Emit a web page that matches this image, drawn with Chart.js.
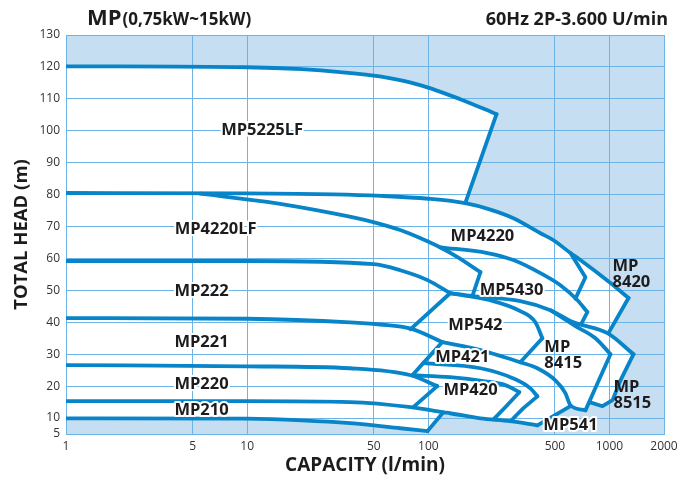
<!DOCTYPE html>
<html>
<head>
<meta charset="utf-8">
<script src="https://cdn.jsdelivr.net/npm/chart.js@4.4.1/dist/chart.umd.min.js"></script>
<style>
  html, body { margin: 0; padding: 0; background: #fff; }
</style>
</head>
<body>
<canvas id="chart" width="692" height="479"></canvas>
<script>
// tick values
const xTicks = [1, 5, 10, 50, 100, 500, 1000, 2000];
const yTicks = [5, 10, 20, 30, 40, 50, 60, 70, 80, 90, 100, 110, 120, 130];

// curves: [capacity l/min, total head m]
const mp5225lfTop = [[1, 120.2], [10, 119.9], [20, 119.3], [32.6, 118.4], [54, 117.0], [90, 114.3], [150, 109.9], [238, 105.2]];
const mp5225lfEdge = [[238, 105.2], [160, 77.3]];
const lineB = [[1, 80.5], [10, 80.4], [30, 80.1], [55, 79.6], [100, 78.7], [160, 77.3], [220, 75.3], [295, 72.6], [416, 67.9], [491, 65.7], [609, 61.7], [691, 59.5], [1013, 52.3], [1274, 47.6]];
const mp8420Edge = [[1274, 47.6], [987, 36.6]];
const mp4220lfTop = [[5.5, 80.3], [12.9, 77.7], [29.9, 74.1], [49.7, 71.4], [70, 68.9], [90, 66.4], [116, 63.5], [145, 60.4], [194, 55.7]];
const mp4220lfEdge = [[194, 55.7], [175, 48.2]];
const mp4220Bottom = [[116, 63.5], [212, 61.7], [295, 59.5], [416, 55.4], [536, 51.6], [666, 46.9], [755, 43.2]];
const mp4220Edge = [[609, 61.7], [737, 54.1], [649, 47.4]];
const mp5430Edge = [[755, 43.2], [700, 39.6]];
const lineD = [[1, 59.2], [10, 59.2], [50, 58.2], [70, 56.3], [99, 53.2], [132, 49.1]];
const lineU = [[132, 49.1], [175, 48.2], [322, 46.6], [472, 43.8], [634, 40.0], [975, 36.6], [1358, 30.0]];
const mp222Edge = [[132, 49.1], [79.6, 37.8]];
const mp542Top = [[132, 49.1], [220, 46.9], [322, 43.5], [390, 40.0], [426, 35.0]];
const mp542Edge = [[426, 35.0], [322, 27.5]];
const mp542Bottom = [[119.5, 33.8], [194, 31.3], [322, 27.5]];
const mp8415Top = [[472, 43.8], [649, 38.8], [837, 35.0], [1013, 30.0]];
const mp8415Edge = [[1013, 30.0], [859, 20.9], [737, 12.4]];
const mp8415Bottom = [[322, 27.5], [400, 25.6], [503, 21.8], [571, 17.8], [609, 14.0], [737, 12.4]];
const mp8515Edge = [[1358, 30.0], [1150, 21.8], [1040, 15.6], [915, 13.7], [776, 15.0]];
const mp541Edge = [[400, 7.7], [609, 13.7]];
const lineE = [[1, 41.3], [10, 41.1], [37, 40.0], [54, 39.3], [80, 38.0], [119.5, 33.8]];
const mp221Edge = [[119.5, 33.8], [93.8, 27.2], [81.6, 23.4]];
const line220 = [[1, 26.6], [10, 26.2], [37, 25.6], [80, 23.4], [112, 20.0]];
const mp220Edge = [[112, 20.0], [82.6, 13.4]];
const lineF = [[1, 15.3], [10, 15.3], [37, 15.0], [80, 13.4], [121, 11.8], [132, 11.5], [194, 9.9], [284, 9.0], [400, 7.7]];
const lineG = [[1, 9.9], [10, 9.8], [20, 9.3], [37, 8.4], [70, 6.8], [99, 5.9]];
const mp210Edge = [[99, 5.9], [121, 11.8]];
const mp421Top = [[93.8, 27.2], [194, 25.6], [295, 22.4], [366, 19.3], [400, 16.8]];
const mp421Edge = [[400, 16.8], [335, 13.1], [284, 9.0]];
const mp420Top = [[81.6, 23.4], [132, 22.8], [206, 21.5], [266, 20.3], [318, 18.1]];
const mp420Edge = [[318, 18.1], [266, 13.4], [229, 9.6]];

// model names: [text, capacity, head]
const names = [
  ['MP5225LF', 12.1, 100], ['MP4220LF', 6.7, 69.2], ['MP222', 5.6, 49.7],
  ['MP221', 5.6, 33.8], ['MP220', 5.6, 20.6], ['MP210', 5.6, 12.4],
  ['MP4220', 199, 67.0], ['MP5430', 288, 50.1], ['MP542', 182, 38.9],
  ['MP421', 154, 29.1], ['MP420', 171, 18.6], ['MP541', 609, 7.7]
];
// two-line names, anchored at the left edge
const names2 = [['MP', '8420', 1040, 55.1], ['MP', '8415', 437, 29.8], ['MP', '8515', 1052, 17.1]];

const curves = [
  [mp5225lfTop, true], [mp5225lfEdge, false], [lineB, true], [mp8420Edge, false],
  [mp4220lfTop, true], [mp4220lfEdge, false], [mp4220Bottom, true], [mp4220Edge, false],
  [mp5430Edge, false], [lineD, true], [lineU, true], [mp222Edge, false],
  [mp542Top, true], [mp542Edge, false], [mp542Bottom, true], [mp8415Top, true],
  [mp8415Edge, false], [mp8415Bottom, true], [mp8515Edge, false], [mp541Edge, false],
  [lineE, true], [mp221Edge, false], [line220, true], [mp220Edge, false],
  [lineF, true], [lineG, true], [mp210Edge, false], [mp421Top, true],
  [mp421Edge, false], [mp420Top, true], [mp420Edge, false]
];

// outer boundary of all working ranges (white area)
const rev = a => a.slice().reverse();
const outline = [
  ...mp5225lfTop,
  ...mp5225lfEdge.slice(1),
  ...lineB.filter(p => p[0] > 160),
  ...mp8420Edge.slice(1),
  ...lineU.filter(p => p[0] > 987),
  ...mp8515Edge.slice(1),
  mp8415Edge[mp8415Edge.length - 1],
  ...rev(mp8415Bottom).filter(p => p[0] < 737 && p[0] >= 609),
  ...rev(mp541Edge),
  ...rev(lineF).filter(p => p[0] < 400 && p[0] > 121),
  ...rev(mp210Edge),
  ...rev(lineG).slice(1)
];

const FONT = "'Open Sans', 'DejaVu Sans', sans-serif";
const BLUE = '#0884c9';
const GRID = '#6db3e5';

const backdrop = {
  id: 'backdrop',
  beforeDraw(chart) {
    const {ctx, chartArea: a, scales: {x, y}} = chart;
    ctx.save();
    ctx.fillStyle = '#c6def1';
    ctx.fillRect(a.left, a.top, a.right - a.left, a.bottom - a.top);
    ctx.beginPath();
    outline.forEach(([vx, vy], i) => {
      const px = x.getPixelForValue(vx), py = y.getPixelForValue(vy);
      if (i) ctx.lineTo(px, py); else ctx.moveTo(px, py);
    });
    ctx.closePath();
    ctx.fillStyle = '#fff';
    ctx.fill();
    ctx.restore();
  }
};

function haloText(ctx, t, px, py) {
  ctx.strokeText(t, px, py);
  ctx.fillText(t, px, py);
}

const texts = {
  id: 'texts',
  afterDatasetsDraw(chart) {
    const {ctx, scales: {x, y}} = chart;
    ctx.save();
    ctx.font = "bold 16.5px " + FONT;
    ctx.textBaseline = 'middle';
    ctx.lineJoin = 'round';
    ctx.lineWidth = 4;
    ctx.strokeStyle = '#fff';
    ctx.fillStyle = '#1e1b1c';
    ctx.textAlign = 'center';
    names.forEach(([t, vx, vy]) => haloText(ctx, t, x.getPixelForValue(vx), y.getPixelForValue(vy)));
    ctx.textAlign = 'left';
    names2.forEach(([t1, t2, vx, vy]) => {
      const px = x.getPixelForValue(vx), py = y.getPixelForValue(vy);
      ctx.fillText(t1, px, py - 8);
      ctx.fillText(t2, px, py + 8);
    });
    ctx.restore();
  },
  afterDraw(chart) {
    const {ctx} = chart;
    ctx.save();
    ctx.fillStyle = '#1e1b1c';
    ctx.textBaseline = 'alphabetic';
    ctx.textAlign = 'left';
    ctx.font = "bold 22px " + FONT;
    ctx.fillText('MP', 87, 25);
    const w = ctx.measureText('MP').width;
    ctx.font = "bold 17px " + FONT;
    ctx.fillText('(0,75kW~15kW)', 88 + w, 25);
    ctx.textAlign = 'right';
    ctx.font = "bold 18px " + FONT;
    ctx.fillText('60Hz 2P-3.600 U/min', 668, 25);
    ctx.restore();
  }
};

new Chart(document.getElementById('chart'), {
  type: 'scatter',
  data: {
    datasets: curves.map(([pts, smooth]) => ({
      data: pts.map(([x, y]) => ({x, y})),
      showLine: true,
      pointRadius: 0,
      borderColor: BLUE,
      borderWidth: 3.8,
      borderJoinStyle: 'round',
      borderCapStyle: 'round',
      tension: smooth ? 0.4 : 0,
      cubicInterpolationMode: smooth ? 'monotone' : 'default',
      fill: false
    }))
  },
  options: {
    responsive: false,
    animation: false,
    events: [],
    layout: { padding: { top: 35, right: 28, left: 0, bottom: 0 } },
    plugins: { legend: { display: false }, tooltip: { enabled: false } },
    scales: {
      x: {
        type: 'logarithmic',
        min: 1,
        max: 2000,
        afterBuildTicks: s => { s.ticks = xTicks.map(v => ({value: v})); },
        afterFit: s => { s.height = 45; },
        grid: { color: GRID, lineWidth: 1, drawTicks: false },
        border: { color: GRID, width: 1 },
        ticks: {
          autoSkip: false, maxRotation: 0, padding: 5, color: '#333',
          font: { family: FONT, size: 12 },
          callback: v => String(v)
        },
        title: {
          display: true, text: 'CAPACITY (l/min)', color: '#1e1b1c',
          font: { family: FONT, size: 19, weight: 'bold' },
          padding: { top: 0, bottom: 2 }
        }
      },
      y: {
        min: 5,
        max: 130,
        afterBuildTicks: s => { s.ticks = yTicks.map(v => ({value: v})); },
        afterFit: s => { s.width = 66; },
        grid: { color: GRID, lineWidth: 1, drawTicks: false },
        border: { color: GRID, width: 1 },
        ticks: {
          autoSkip: false, padding: 6, color: '#333',
          font: { family: FONT, size: 12 }
        },
        title: {
          display: true, text: 'TOTAL HEAD (m)', color: '#1e1b1c',
          font: { family: FONT, size: 18.5, weight: 'bold' },
          padding: { top: 11, bottom: 0 }
        }
      }
    }
  },
  plugins: [backdrop, texts]
});
</script>
</body>
</html>
